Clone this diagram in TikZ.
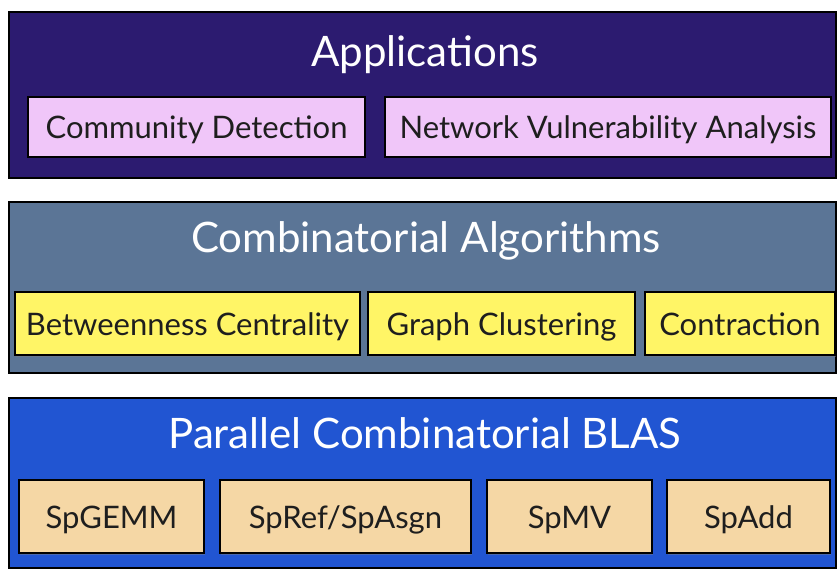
\documentclass[tikz,border=0pt]{standalone}
\usepackage{fontspec}
\setmainfont{Lato}
\usetikzlibrary{shadows}
\definecolor{appbg}{HTML}{2C1B70}
\definecolor{pinkbox}{HTML}{F0C6F9}
\definecolor{combobg}{HTML}{5B7596}
\definecolor{yellowbox}{HTML}{FFF566}
\definecolor{blasbg}{HTML}{2155D2}
\definecolor{tanbox}{HTML}{F5D7A5}
\definecolor{boxtext}{HTML}{1E1E1E}
\tikzset{
  panel/.style={draw=black, line width=2pt, anchor=north west, inner sep=0pt},
  layertitle/.style={text=white, font=\fontsize{42}{46}\selectfont, anchor=base, inner sep=0pt},
  itembox/.style={draw=black, line width=2pt, inner sep=0pt, text=boxtext,
    font=\fontsize{31}{34}\selectfont, text height=24pt, text depth=0pt,
    drop shadow={opacity=0.45, shadow xshift=1.2pt, shadow yshift=-1.5pt}},
}
\begin{document}
\begin{tikzpicture}[x=1pt,y=-1pt]
\useasboundingbox[fill=white] (0,0) rectangle (838,569);
% Applications layer
\node (app) [panel, fill=appbg, minimum width=827pt, minimum height=166pt] at (8,11) {};
\node (apptitle) [layertitle] at (425,67) {Applications};
\node (cd) [itembox, fill=pinkbox, minimum width=337pt, minimum height=60pt] at (196.5,127) {Community Detection};
\node (nva) [itembox, fill=pinkbox, minimum width=446pt, minimum height=60pt] at (608,127) {Network Vulnerability Analysis};
% Combinatorial algorithms layer
\node (comb) [panel, fill=combobg, minimum width=827pt, minimum height=171pt] at (8,201) {};
\node (combtitle) [layertitle] at (426,253) {Combinatorial Algorithms};
\node (bc) [itembox, fill=yellowbox, minimum width=345pt, minimum height=63pt] at (187.5,323.5) {Betweenness Centrality};
\node (gc) [itembox, fill=yellowbox, minimum width=267pt, minimum height=63pt] at (501.5,323.5) {Graph Clustering};
\node (con) [itembox, fill=yellowbox, minimum width=190pt, minimum height=63pt] at (740,323.5) {Contraction};
% Parallel combinatorial BLAS layer
\node (blas) [panel, fill=blasbg, minimum width=827pt, minimum height=170pt] at (8,397) {};
\node (blastitle) [layertitle] at (425,448) {Parallel Combinatorial BLAS};
\node (spgemm) [itembox, fill=tanbox, minimum width=185pt, minimum height=73pt] at (111.5,516.5) {SpGEMM};
\node (spref) [itembox, fill=tanbox, minimum width=251pt, minimum height=73pt] at (345.5,516.5) {SpRef/SpAsgn};
\node (spmv) [itembox, fill=tanbox, minimum width=165pt, minimum height=73pt] at (569.5,516.5) {SpMV};
\node (spadd) [itembox, fill=tanbox, minimum width=163pt, minimum height=73pt] at (748.5,516.5) {SpAdd};
\end{tikzpicture}
\end{document}
